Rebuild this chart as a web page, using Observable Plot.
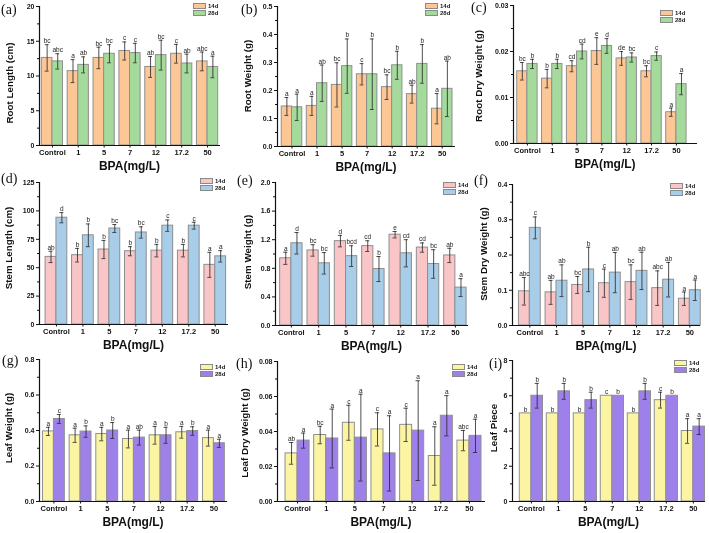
<!DOCTYPE html>
<html><head><meta charset="utf-8">
<script src="https://cdn.jsdelivr.net/npm/d3@7"></script>
<script src="https://cdn.jsdelivr.net/npm/@observablehq/plot@0.6"></script>
<style>
body{margin:0;background:#fff;}
#root{position:relative;width:709px;height:533px;overflow:hidden;font-family:"Liberation Sans",Arial,sans-serif;}
.svgbox{position:absolute;will-change:transform;}
.ylab{position:absolute;transform:translate(-50%,-50%) rotate(-90deg);white-space:nowrap;font-weight:bold;font-size:9.8px;color:#111;}
.xlab{position:absolute;transform:translate(-50%,-50%);white-space:nowrap;font-weight:bold;font-size:12px;color:#111;}
.plab{position:absolute;font-family:"Liberation Serif","Times New Roman",serif;font-size:14px;line-height:14px;color:#111;}
.lbox{position:absolute;width:13px;height:6px;border:1px solid #8a8a8a;box-sizing:border-box;}
.ltxt{position:absolute;font-size:6px;line-height:7px;font-weight:bold;color:#222;}
</style>
</head><body><div id="root"></div>
<script>
const categories = ["Control","1","5","7","12","17.2","50"];
const seriesNames = ["14d","28d"];

// (a) Root Length (cm)
const aMean14 = [12.6,10.7,12.6,13.6,11.3,13.2,12.1];
const aErr14  = [1.9,1.65,1.55,1.3,1.5,1.35,1.35];
const aMean28 = [12.1,11.6,13.2,13.3,13.0,11.8,11.3];
const aErr28  = [1.1,1.15,1.3,1.4,2.15,1.35,1.55];
const aLet14 = ["bc","a","bc","c","ab","c","abc"];
const aLet28 = ["abc","ab","bc","c","bc","ab","a"];
const aTicks = [0,5,10,15,20];

// (b) Root Weight (g)
const bMean14 = [0.143,0.145,0.22,0.258,0.212,0.187,0.135];
const bErr14  = [0.032,0.034,0.079,0.038,0.044,0.032,0.054];
const bMean28 = [0.14,0.226,0.287,0.258,0.29,0.295,0.206];
const bErr28  = [0.047,0.065,0.097,0.126,0.05,0.069,0.099];
const bLet14 = ["a","a","bc","c","bc","ab","a"];
const bLet28 = ["a","ab","b","b","b","b","ab"];
const bTicks = [0,0.1,0.2,0.3,0.4,0.5];

// (c) Root Dry Weight (g)
const cMean14 = [0.0157,0.0141,0.0168,0.0201,0.0185,0.0157,0.0068];
const cErr14  = [0.0019,0.0020,0.0012,0.0029,0.0015,0.0012,0.0009];
const cMean28 = [0.0173,0.0173,0.0200,0.0212,0.0187,0.0190,0.0129];
const cErr28  = [0.0010,0.0010,0.0016,0.0016,0.0010,0.0009,0.0023];
const cLet14 = ["bc","b","cd","e","de","bc","a"];
const cLet28 = ["b","b","cd","d","bc","c","a"];
const cTicks = [0,0.01,0.02,0.03];

// (d) Stem Length (cm)
const dMean14 = [59.5,61,66,64.5,65,65,52.5];
const dErr14  = [5,6,8,4,5.5,5.5,11];
const dMean28 = [94,78.5,84.5,81,87,87,60];
const dErr28  = [4.5,10,3.5,5,5,3,5];
const dLet14 = ["ab","b","b","b","b","b","a"];
const dLet28 = ["d","b","bc","bc","c","c","a"];
const dTicks = [0,25,50,75,100,125];

// (e) Stem Weight (g)
const eMean14 = [0.94,1.05,1.18,1.11,1.27,1.09,0.98];
const eErr14  = [0.085,0.08,0.08,0.075,0.045,0.065,0.1];
const eMean28 = [1.15,0.87,0.97,0.79,1.01,0.86,0.53];
const eErr28  = [0.15,0.15,0.145,0.175,0.19,0.2,0.125];
const eLet14 = ["a","bc","d","cd","e","cd","ab"];
const eLet28 = ["d","bc","bcd","b","cd","bc","a"];
const eTicks = [0,0.4,0.8,1.2,1.6,2.0];

// (f) Stem Dry Weight (g)
const fMean14 = [0.097,0.094,0.115,0.12,0.123,0.106,0.076];
const fErr14  = [0.039,0.034,0.024,0.04,0.049,0.049,0.019];
const fMean28 = [0.277,0.127,0.159,0.15,0.155,0.13,0.10];
const fErr28  = [0.031,0.045,0.063,0.057,0.053,0.049,0.029];
const fLet14 = ["abc","ab","bc","c","bc","abc","a"];
const fLet28 = ["c","ab","b","ab","ab","ab","a"];
const fTicks = [0,0.1,0.2,0.3,0.4];

// (g) Leaf Weight (g)
const gMean14 = [0.395,0.373,0.38,0.352,0.373,0.39,0.357];
const gErr14  = [0.023,0.04,0.038,0.05,0.05,0.033,0.045];
const gMean28 = [0.465,0.394,0.40,0.36,0.373,0.397,0.328];
const gErr28  = [0.025,0.032,0.045,0.042,0.045,0.024,0.023];
const gLet14 = ["a","a","a","a","a","a","a"];
const gLet28 = ["c","b","b","ab","b","b","a"];
const gTicks = [0,0.2,0.4,0.6,0.8];

// (h) Leaf Dry Weight (g)
const hMean14 = [0.0275,0.038,0.045,0.0412,0.0438,0.026,0.0348];
const hErr14  = [0.0062,0.005,0.010,0.0095,0.0095,0.0167,0.0058];
const hMean28 = [0.0348,0.036,0.0365,0.0275,0.0405,0.049,0.0375];
const hErr28  = [0.0043,0.0168,0.0248,0.0215,0.0285,0.0115,0.0095];
const hLet14 = ["ab","bc","c","c","c","a","abc"];
const hLet28 = ["a","a","a","a","a","a","a"];
const hTicks = [0,0.02,0.04,0.06,0.08];

// (i) Leaf Piece
const iMean14 = [5,5,5,6,5,5.75,4];
const iErr14  = [0,0,0,0,0,0.45,0.7];
const iMean28 = [6,6.25,5.75,6,6.25,6,4.25];
const iErr28  = [0.7,0.45,0.45,0,0.45,0,0.45];
const iLet14 = ["b","b","b","c","b","c","a"];
const iLet28 = ["b","b","b","b","b","b","a"];
const iTicks = [0,2,4,6,8];

const panels = [
  {tag:"(a)", ylabel:"Root  Length (cm)", m14:aMean14,e14:aErr14,m28:aMean28,e28:aErr28,L14:aLet14,L28:aLet28,ticks:aTicks,fmt:d3.format("d"),
   c14:"#FDC695",c28:"#A5DA9D", ax:39,right:220,top:6,zero:145,xlo:-0.5,xhi:6.5,bw:0.41, ylx:9,yly:83, leg:[193,3], pl:[1,3]},
  {tag:"(b)", ylabel:"Root  Weight (g)", m14:bMean14,e14:bErr14,m28:bMean28,e28:bErr28,L14:bLet14,L28:bLet28,ticks:bTicks,fmt:d3.format(".1f"),
   c14:"#FDC695",c28:"#A5DA9D", ax:277,right:455,top:6,zero:146,xlo:-0.58,xhi:6.53,bw:0.41, ylx:247,yly:76, leg:[425,3], pl:[241,3]},
  {tag:"(c)", ylabel:"Root  Dry Weight (g)", m14:cMean14,e14:cErr14,m28:cMean28,e28:cErr28,L14:cLet14,L28:cLet28,ticks:cTicks,fmt:d3.format(".2f"),
   c14:"#FDC695",c28:"#A5DA9D", ax:513,right:697,top:5,zero:143,xlo:-0.56,xhi:6.85,bw:0.41, ylx:478,yly:76, leg:[660,10], pl:[471,1]},
  {tag:"(d)", ylabel:"Stem Length (cm)", m14:dMean14,e14:dErr14,m28:dMean28,e28:dErr28,L14:dLet14,L28:dLet28,ticks:dTicks,fmt:d3.format("d"),
   c14:"#F9C5C7",c28:"#A7CDE8", ax:39,right:228,top:182,zero:324,xlo:-0.64,xhi:6.5,bw:0.41, ylx:8,yly:248, leg:[200,178], pl:[1,172]},
  {tag:"(e)", ylabel:"Stem  Weight (g)", m14:eMean14,e14:eErr14,m28:eMean28,e28:eErr28,L14:eLet14,L28:eLet28,ticks:eTicks,fmt:d3.format(".1f"),
   c14:"#F9C5C7",c28:"#A7CDE8", ax:275,right:468,top:182,zero:325,xlo:-0.58,xhi:6.48,bw:0.41, ylx:247,yly:252, leg:[443,182], pl:[237,174]},
  {tag:"(f)", ylabel:"Stem Dry Weight (g)", m14:fMean14,e14:fErr14,m28:fMean28,e28:fErr28,L14:fLet14,L28:fLet28,ticks:fTicks,fmt:d3.format(".1f"),
   c14:"#F9C5C7",c28:"#A7CDE8", ax:512,right:700,top:184,zero:325,xlo:-0.65,xhi:6.4,bw:0.41, ylx:483,yly:254, leg:[670,183], pl:[474,174]},
  {tag:"(g)", ylabel:"Leaf Weight (g)", m14:gMean14,e14:gErr14,m28:gMean28,e28:gErr28,L14:gLet14,L28:gLet28,ticks:gTicks,fmt:d3.format(".1f"),
   c14:"#FBF4A3",c28:"#9E80EB", ax:39,right:227,top:359,zero:501,xlo:-0.54,xhi:6.51,bw:0.41, ylx:8,yly:428, leg:[200,364], pl:[2,354]},
  {tag:"(h)", ylabel:"Leaf Dry Weight (g)", m14:hMean14,e14:hErr14,m28:hMean28,e28:hErr28,L14:hLet14,L28:hLet28,ticks:hTicks,fmt:d3.format(".2f"),
   c14:"#FBF4A3",c28:"#9E80EB", ax:277,right:485,top:361,zero:501,xlo:-0.7,xhi:6.56,bw:0.42, ylx:244,yly:433, leg:[452,364], pl:[236,357]},
  {tag:"(i)", ylabel:"Leaf  Piece", m14:iMean14,e14:iErr14,m28:iMean28,e28:iErr28,L14:iLet14,L28:iLet28,ticks:iTicks,fmt:d3.format("d"),
   c14:"#FBF4A3",c28:"#9E80EB", ax:512,right:705,top:360,zero:501,xlo:-0.7,xhi:6.45,bw:0.43, ylx:493,yly:428, leg:[674,360], pl:[489,357]},
];

const root = document.getElementById("root");
function addDiv(cls, text, style){
  const d = document.createElement("div"); d.className = cls; if (text!=null) d.textContent = text;
  Object.assign(d.style, style); root.appendChild(d); return d;
}

for (const p of panels) {
  const mL = 38, mR = 4, mT = 10, mB = 22;
  const width = (p.right - p.ax) + mL + mR;
  const height = (p.zero - p.top) + mT + mB;
  const rows = categories.flatMap((c, i) => [
    {i, s: seriesNames[0], m: p.m14[i], e: p.e14[i], L: p.L14[i], cx: i - p.bw/2, x1: i - p.bw, x2: i},
    {i, s: seriesNames[1], m: p.m28[i], e: p.e28[i], L: p.L28[i], cx: i + p.bw/2, x1: i, x2: i + p.bw}
  ]);
  const r14 = rows.filter(d => d.s === "14d"), r28 = rows.filter(d => d.s === "28d");
  const withErr = rows.filter(d => d.e > 0);
  const ymax = p.ticks[p.ticks.length-1];
  const step = p.ticks[1] - p.ticks[0];
  const minor = p.ticks.slice(0,-1).map(t => t + step/2);
  const capW = 0.075;
  const chart = Plot.plot({
    width, height, marginLeft: mL, marginRight: mR, marginTop: mT, marginBottom: mB,
    style: {fontFamily: "Liberation Sans, Arial, sans-serif", fontSize: "7px", fontWeight: "bold", background: "transparent", color: "#111"},
    x: {type: "linear", domain: [p.xlo, p.xhi]},
    y: {domain: [0, ymax]},
    marks: [
      Plot.rect(r14, {x1: "x1", x2: "x2", y1: 0, y2: "m", fill: p.c14, stroke: "#8f8f8f", strokeWidth: 1}),
      Plot.rect(r28, {x1: "x1", x2: "x2", y1: 0, y2: "m", fill: p.c28, stroke: "#8f8f8f", strokeWidth: 1}),
      Plot.ruleX(withErr, {x: "cx", y1: d => d.m - d.e, y2: d => d.m + d.e, stroke: "#222", strokeWidth: 0.8}),
      Plot.ruleY(withErr, {x1: d => d.cx - capW, x2: d => d.cx + capW, y: d => d.m + d.e, stroke: "#222", strokeWidth: 0.8}),
      Plot.ruleY(withErr, {x1: d => d.cx - capW, x2: d => d.cx + capW, y: d => d.m - d.e, stroke: "#222", strokeWidth: 0.8}),
      Plot.text(rows, {x: "cx", y: d => d.m + d.e, text: "L", dy: -1.5, lineAnchor: "bottom", fontSize: 6.5, fontWeight: "normal", fill: "#222"}),
      Plot.ruleY([0], {stroke: "#111", strokeWidth: 1.2}),
      Plot.ruleX([p.xlo], {stroke: "#111", strokeWidth: 1.2}),
      Plot.axisY(p.ticks, {tickSize: 3, tickPadding: 2, tickFormat: p.fmt, label: null, fontSize: 7}),
      Plot.axisY(minor, {tickSize: 2, tickFormat: () => "", label: null}),
      Plot.axisX(d3.range(categories.length), {tickSize: 2.5, tickPadding: 2, tickFormat: i => categories[i], label: null, fontSize: 7.5})
    ]
  });
  const box = document.createElement("div");
  box.className = "svgbox";
  box.style.left = (p.ax - mL) + "px";
  box.style.top = (p.top - mT) + "px";
  box.appendChild(chart);
  root.appendChild(box);

  addDiv("ylab", p.ylabel, {left: p.ylx + "px", top: p.yly + "px"});
  addDiv("xlab", "BPA(mg/L)", {left: ((p.ax + p.right)/2) + "px", top: (p.zero + 21) + "px"});
  addDiv("plab", p.tag, {left: p.pl[0] + "px", top: p.pl[1] + "px"});
  const [lx, ly] = p.leg;
  addDiv("lbox", null, {left: lx + "px", top: ly + "px", background: p.c14});
  addDiv("lbox", null, {left: lx + "px", top: (ly + 7) + "px", background: p.c28});
  addDiv("ltxt", seriesNames[0], {left: (lx + 15) + "px", top: (ly - 0.5) + "px"});
  addDiv("ltxt", seriesNames[1], {left: (lx + 15) + "px", top: (ly + 6.5) + "px"});
}
</script></body></html>
